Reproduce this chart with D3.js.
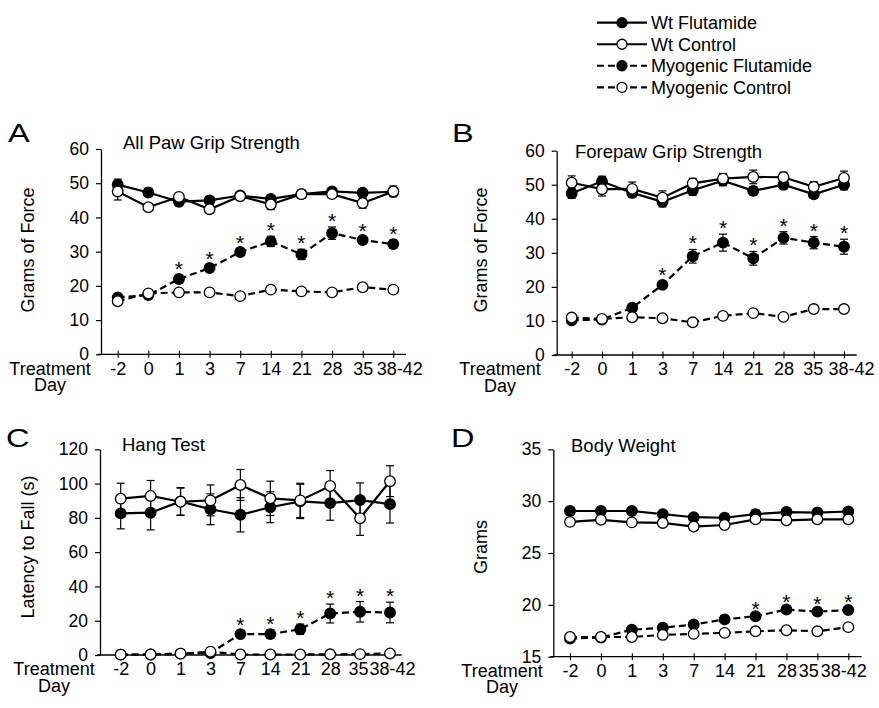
<!DOCTYPE html>
<html>
<head>
<meta charset="utf-8">
<script src="https://cdn.jsdelivr.net/npm/d3@7"></script>
<style>
  body { margin: 0; background: #fff; }
  svg { font-family: "Liberation Sans", Arial, sans-serif; }
</style>
</head>
<body>
<script>
// treatment days (x categories)
const days = ["-2", "0", "1", "3", "7", "14", "21", "28", "35", "38-42"];
const seriesNames = ["Wt Flutamide", "Wt Control", "Myogenic Flutamide", "Myogenic Control"];

// A - all paw grip strength
const allPawWtFlut = [49.6, 47.3, 44.6, 45.0, 46.4, 45.4, 46.8, 47.6, 47.2, 47.5];
const allPawWtFlutErr = [1.6, 1.2, 1.2, 1.0, 0.8, 1.0, 1.2, 1.0, 1.0, 1.0];
const allPawWtCtrl = [47.6, 43.0, 46.0, 42.4, 46.2, 43.8, 46.8, 46.8, 44.2, 47.6];
const allPawWtCtrlErr = [2.5, 0.8, 1.0, 0.8, 0.8, 1.5, 1.2, 1.0, 1.5, 1.6];
const allPawMyoFlut = [16.6, 17.3, 22.0, 25.2, 29.9, 33.0, 29.2, 35.4, 33.4, 32.2];
const allPawMyoFlutErr = [0.8, 0.8, 1.2, 1.0, 1.0, 1.5, 1.5, 1.8, 1.0, 1.2];
const allPawMyoCtrl = [15.5, 17.8, 18.1, 18.1, 17.0, 18.9, 18.4, 18.1, 19.6, 18.9];
const allPawMyoCtrlErr = [0.8, 0.8, 0.7, 0.7, 0.7, 0.7, 0.7, 0.7, 0.8, 0.8];
const allPawStars = [0, 0, 1, 1, 1, 1, 1, 1, 1, 1];

// B - forepaw grip strength
const forepawWtFlut = [47.5, 51.0, 47.6, 45.0, 48.4, 51.2, 48.2, 50.0, 47.2, 50.0];
const forepawWtFlutErr = [1.5, 1.5, 1.2, 1.5, 1.5, 1.5, 1.2, 1.2, 1.2, 1.5];
const forepawWtCtrl = [50.6, 48.7, 48.8, 46.2, 50.4, 51.8, 52.3, 52.2, 49.4, 52.0];
const forepawWtCtrlErr = [2.0, 2.0, 2.0, 2.0, 1.5, 1.5, 2.0, 1.5, 1.5, 2.0];
const forepawMyoFlut = [10.2, 10.4, 13.9, 20.6, 29.0, 33.0, 28.4, 34.4, 33.0, 31.8];
const forepawMyoFlutErr = [0.8, 0.8, 1.0, 1.0, 2.0, 2.5, 2.0, 1.8, 1.8, 2.2];
const forepawMyoCtrl = [11.0, 10.6, 11.1, 10.8, 9.6, 11.5, 12.3, 11.2, 13.5, 13.5];
const forepawMyoCtrlErr = [0.7, 0.7, 0.7, 0.7, 0.7, 0.7, 0.7, 0.7, 0.7, 0.7];
const forepawStars = [0, 0, 0, 1, 1, 1, 1, 1, 1, 1];

// C - hang test
const hangWtFlut = [82.6, 83.0, 89.6, 85.0, 81.8, 86.2, 89.6, 88.6, 90.4, 88.0];
const hangWtFlutErr = [9, 10, 8, 9, 10, 9, 10, 10, 10, 11];
const hangWtCtrl = [91.2, 92.8, 89.4, 90.2, 99.2, 91.4, 90.2, 98.6, 79.8, 101.4];
const hangWtCtrlErr = [9, 9, 8, 9, 9, 10, 10, 9, 10, 9];
const hangMyoFlut = [0.2, 0.3, 0.8, 1.2, 12.2, 12.2, 15.0, 24.2, 25.2, 24.8];
const hangMyoFlutErr = [0.2, 0.3, 0.5, 0.8, 2.0, 2.5, 3.0, 5.5, 6.0, 6.0];
const hangMyoCtrl = [0.2, 0.3, 0.8, 1.9, 0.3, 0.3, 0.3, 0.4, 0.5, 0.9];
const hangMyoCtrlErr = [0.2, 0.2, 0.3, 0.4, 0.2, 0.2, 0.2, 0.2, 0.2, 0.3];
const hangStars = [0, 0, 0, 0, 1, 1, 1, 1, 1, 1];

// D - body weight
const weightWtFlut = [29.05, 29.05, 29.05, 28.75, 28.45, 28.4, 28.75, 28.95, 28.9, 29.0];
const weightWtFlutErr = [0.2, 0.2, 0.2, 0.2, 0.25, 0.3, 0.4, 0.3, 0.2, 0.2];
const weightWtCtrl = [28.0, 28.2, 27.95, 27.9, 27.55, 27.7, 28.25, 28.15, 28.25, 28.25];
const weightWtCtrlErr = [0.2, 0.2, 0.2, 0.2, 0.25, 0.25, 0.2, 0.2, 0.2, 0.2];
const weightMyoFlut = [16.75, 16.85, 17.6, 17.8, 18.1, 18.6, 18.9, 19.55, 19.35, 19.5];
const weightMyoFlutErr = [0.15, 0.15, 0.15, 0.15, 0.15, 0.15, 0.15, 0.15, 0.15, 0.15];
const weightMyoCtrl = [16.9, 16.9, 16.9, 17.1, 17.2, 17.3, 17.45, 17.55, 17.45, 17.85];
const weightMyoCtrlErr = [0.15, 0.15, 0.15, 0.15, 0.15, 0.15, 0.15, 0.15, 0.15, 0.2];
const weightStars = [0, 0, 0, 0, 0, 0, 1, 1, 1, 1];

const svg = d3.select("body").append("svg")
  .attr("width", 879)
  .attr("height", 708);

// series styles: filled / dashed
const styles = [
  { filled: true, dashed: false },
  { filled: false, dashed: false },
  { filled: true, dashed: true },
  { filled: false, dashed: true }
];

// lbl: nudges of the last two day labels (as placed in the original figure)
const panels = [
  { letter: "A", lx: 8, ly: 142, title: "All Paw Grip Strength", tx: 123, ty: 149,
    ylabel: "Grams of Force", ylx: 34, yly: 250,
    yDomain: [0, 60], yTicks: [0, 10, 20, 30, 40, 50, 60], yRange: [354.3, 149],
    axisX: 101, axisEnd: 406, xRange: [117.7, 393.3], dayX: 50, lbl: [0, 6],
    means: [allPawWtFlut, allPawWtCtrl, allPawMyoFlut, allPawMyoCtrl],
    errs: [allPawWtFlutErr, allPawWtCtrlErr, allPawMyoFlutErr, allPawMyoCtrlErr],
    stars: allPawStars },
  { letter: "B", lx: 452, ly: 142, title: "Forepaw Grip Strength", tx: 575, ty: 158,
    ylabel: "Grams of Force", ylx: 487, yly: 250,
    yDomain: [0, 60], yTicks: [0, 10, 20, 30, 40, 50, 60], yRange: [355, 150.7],
    axisX: 556.7, axisEnd: 856.7, xRange: [571.7, 844], dayX: 500, lbl: [-1, 7],
    means: [forepawWtFlut, forepawWtCtrl, forepawMyoFlut, forepawMyoCtrl],
    errs: [forepawWtFlutErr, forepawWtCtrlErr, forepawMyoFlutErr, forepawMyoCtrlErr],
    stars: forepawStars },
  { letter: "C", lx: 6, ly: 447, title: "Hang Test", tx: 122, ty: 451,
    ylabel: "Latency to Fall (s)", ylx: 34, yly: 547,
    yDomain: [0, 120], yTicks: [0, 20, 40, 60, 80, 100, 120], yRange: [655, 449.3],
    axisX: 100, axisEnd: 401.7, xRange: [120.7, 390], dayX: 54, lbl: [-2, 2],
    means: [hangWtFlut, hangWtCtrl, hangMyoFlut, hangMyoCtrl],
    errs: [hangWtFlutErr, hangWtCtrlErr, hangMyoFlutErr, hangMyoCtrlErr],
    stars: hangStars },
  { letter: "D", lx: 451, ly: 447, title: "Body Weight", tx: 571, ty: 452,
    ylabel: "Grams", ylx: 487, yly: 547,
    yDomain: [15, 35], yTicks: [15, 20, 25, 30, 35], yRange: [656.7, 449.3],
    axisX: 553.3, axisEnd: 861.7, xRange: [570, 848.3], dayX: 502, lbl: [-9, -5],
    means: [weightWtFlut, weightWtCtrl, weightMyoFlut, weightMyoCtrl],
    errs: [weightWtFlutErr, weightWtCtrlErr, weightMyoFlutErr, weightMyoCtrlErr],
    stars: weightStars }
];

panels.forEach(drawPanel);
drawLegend();

function drawPanel(p) {
  const x = d3.scalePoint().domain(days).range(p.xRange);
  const y = d3.scaleLinear().domain(p.yDomain).range(p.yRange);
  const g = svg.append("g");
  const y0 = y(p.yDomain[0]);

  // y axis
  const ya = g.append("g")
    .attr("transform", "translate(" + p.axisX + ",0)")
    .call(d3.axisLeft(y).tickValues(p.yTicks).tickSize(5).tickPadding(7).tickSizeOuter(0));
  ya.select(".domain").attr("stroke-width", 1.3);
  ya.selectAll(".tick line").attr("stroke-width", 1.2);
  ya.selectAll("text").attr("font-size", 17.5).attr("font-family", null).attr("fill", "#000");

  // x axis, ticks cross the line
  const xa = g.append("g")
    .attr("transform", "translate(0," + y0 + ")")
    .call(d3.axisBottom(x).tickSize(3.5).tickPadding(4).tickSizeOuter(0));
  xa.select(".domain").remove();
  xa.append("line")
    .attr("x1", p.axisX - 3).attr("x2", p.axisEnd)
    .attr("stroke", "#000").attr("stroke-width", 1.3);
  xa.selectAll(".tick line").attr("y1", -3.5).attr("stroke-width", 1.1);
  xa.selectAll("text").attr("font-size", 18).attr("font-family", null).attr("fill", "#000")
    .attr("dx", (d, i) => i === 8 ? p.lbl[0] : i === 9 ? p.lbl[1] : 0);

  g.append("text").attr("x", p.dayX).attr("y", y0 + 20.3)
    .attr("text-anchor", "middle").attr("font-size", 18)
    .text("Treatment");
  g.append("text").attr("x", p.dayX).attr("y", y0 + 36.5)
    .attr("text-anchor", "middle").attr("font-size", 18)
    .text("Day");

  // panel letter, title, y label
  g.append("text").attr("x", p.lx).attr("y", p.ly).attr("font-size", 26)
    .attr("transform", "translate(" + p.lx + "," + p.ly + ") scale(1.25,1) translate(" + (-p.lx) + "," + (-p.ly) + ")")
    .text(p.letter);
  g.append("text").attr("x", p.tx).attr("y", p.ty).attr("font-size", 18.5)
    .text(p.title);
  g.append("text")
    .attr("transform", "translate(" + p.ylx + "," + p.yly + ") rotate(-90)")
    .attr("text-anchor", "middle").attr("font-size", 18)
    .text(p.ylabel);

  const line = d3.line().x((d, i) => x(days[i])).y(d => y(d));

  p.means.forEach((vals, s) => {
    const st = styles[s];
    const errs = p.errs[s];
    const sg = g.append("g");
    sg.append("path")
      .attr("d", line(vals))
      .attr("fill", "none").attr("stroke", "#000").attr("stroke-width", 2.2)
      .attr("stroke-dasharray", st.dashed ? "7,4" : null);

    // error bars
    vals.forEach((v, i) => {
      const cx = x(days[i]);
      const top = y(v + errs[i]), bot = y(v - errs[i]);
      sg.append("line").attr("x1", cx).attr("x2", cx).attr("y1", top).attr("y2", bot)
        .attr("stroke", "#000").attr("stroke-width", 1.2);
      [top, bot].forEach(yy => {
        sg.append("line").attr("x1", cx - 4).attr("x2", cx + 4).attr("y1", yy).attr("y2", yy)
          .attr("stroke", "#000").attr("stroke-width", 1.2);
      });
    });

    sg.selectAll("circle").data(vals).enter().append("circle")
      .attr("cx", (d, i) => x(days[i]))
      .attr("cy", d => y(d))
      .attr("r", 5.3)
      .attr("fill", st.filled ? "#000" : "#fff")
      .attr("stroke", "#000").attr("stroke-width", 1.3);
  });

  // significance stars above myogenic flutamide
  const mf = p.means[2], mfe = p.errs[2];
  p.stars.forEach((s, i) => {
    if (!s) return;
    g.append("text")
      .attr("x", x(days[i]))
      .attr("y", y(mf[i] + mfe[i]) + 1)
      .attr("text-anchor", "middle")
      .attr("font-size", 21)
      .text("*");
  });
}

function drawLegend() {
  const lg = svg.append("g");
  const rowY = d3.scaleLinear().domain([0, 3]).range([22.7, 87.3]);
  seriesNames.forEach((name, i) => {
    const st = styles[i];
    const yy = rowY(i);
    lg.append("line").attr("x1", 597).attr("x2", 647).attr("y1", yy).attr("y2", yy)
      .attr("stroke", "#000").attr("stroke-width", 2.2)
      .attr("stroke-dasharray", st.dashed ? "7,4" : null);
    lg.append("circle").attr("cx", 622).attr("cy", yy).attr("r", 5)
      .attr("fill", st.filled ? "#000" : "#fff")
      .attr("stroke", "#000").attr("stroke-width", 1.3);
    lg.append("text").attr("x", 651).attr("y", yy + 6.5)
      .attr("font-size", 18).text(name);
  });
}
</script>
</body>
</html>
